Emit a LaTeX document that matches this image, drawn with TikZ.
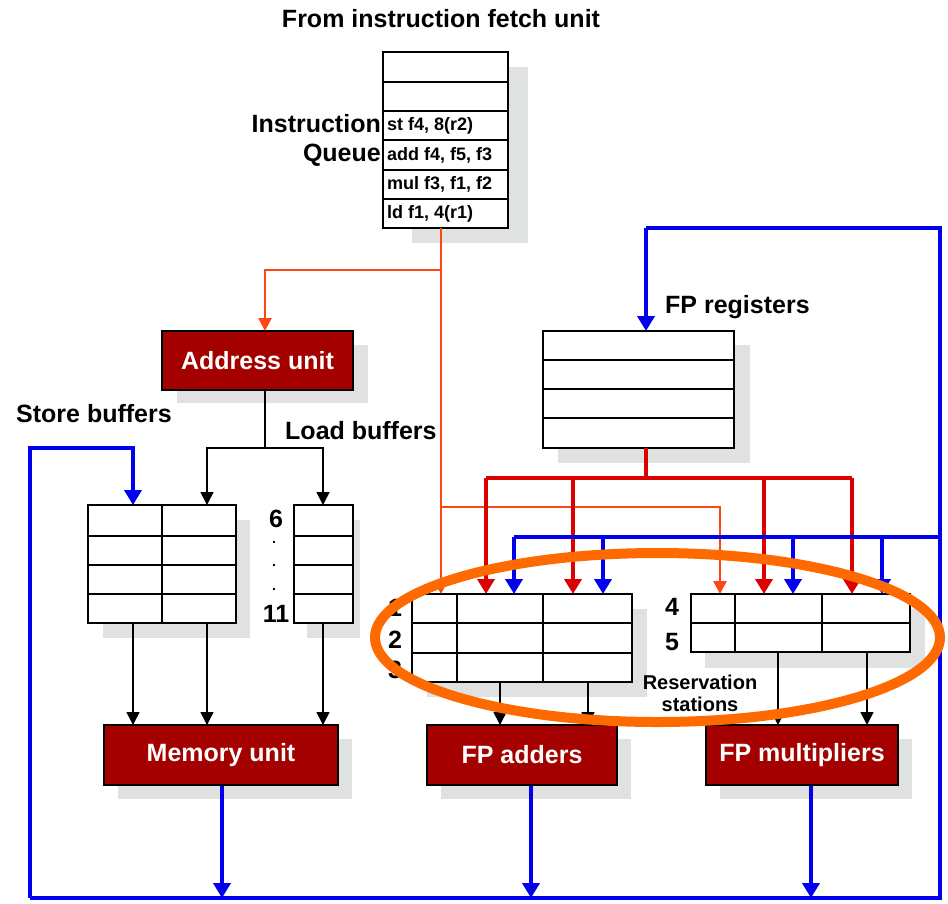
\documentclass[tikz,border=0pt]{standalone}
\usepackage{fontspec}
\setmainfont{Liberation Sans}
\usetikzlibrary{arrows.meta,calc}
\definecolor{unitred}{HTML}{A50000}
\definecolor{busred}{HTML}{DD0000}
\definecolor{ored}{HTML}{FF4512}
\definecolor{bblue}{HTML}{0000EE}
\definecolor{ring}{HTML}{FF6A00}
\definecolor{shade}{HTML}{E0E2E2}
\begin{document}
\begin{tikzpicture}[x=1pt,y=-1pt,line join=miter,
  lbl/.style={font=\bfseries\fontsize{25}{25}\selectfont, inner sep=0},
  dotlbl/.style={font=\bfseries\fontsize{14}{14}\selectfont, inner sep=0},
  small/.style={font=\bfseries\fontsize{18}{18}\selectfont, inner sep=0},
  rslbl/.style={font=\bfseries\fontsize{20}{22}\selectfont, inner sep=0, align=center},
  unit/.style={draw=black, line width=1.2pt, fill=unitred, text=white, font=\bfseries\fontsize{25}{25}\selectfont, inner sep=0, minimum height=60},
  tbl/.style={draw=black, line width=1.5pt, fill=white, inner sep=0},
  cell/.style={black, line width=1.5pt},
  shadowbox/.style={fill=shade, draw=none},
  bbus/.style={bblue, line width=4pt},
  rbus/.style={busred, line width=4.5pt},
  obus/.style={ored, line width=2.5pt},
  kline/.style={black, line width=1.5pt},
  tipbig/.style={-{Triangle[length=15pt,width=17pt]}},
  tipmid/.style={-{Triangle[length=13pt,width=13pt]}},
  tipk/.style={-{Triangle[length=13pt,width=13pt]}}
]
\useasboundingbox (0,0) rectangle (948,903);
\fill[white] (0,0) rectangle (948,903);

% ---------- shadows ----------
\fill[shadowbox] (412,67) rectangle (528,243);
\fill[shadowbox] (177,345) rectangle (368,403);
\fill[shadowbox] (558,345) rectangle (750,463);
\fill[shadowbox] (103,520) rectangle (250,638);
\fill[shadowbox] (307,520) rectangle (360,638);
\fill[shadowbox] (427,609) rectangle (647,697);
\fill[shadowbox] (705,609) rectangle (925,668);
\fill[shadowbox] (118,739) rectangle (352,799);
\fill[shadowbox] (441,739) rectangle (631,799);
\fill[shadowbox] (720,739) rectangle (912,799);

% ---------- instruction queue ----------
\node[lbl] (title) at (441,19) {From instruction fetch unit};
\node[tbl, minimum width=125, minimum height=176] (iq) at (445.5,140) {};
\foreach \y in {82,111,140,170,199} \draw[cell] (383,\y) -- (508,\y);
\node[lbl, anchor=east] (iql1) at (381,124) {Instruction};
\node[lbl, anchor=east] (iql2) at (381,155) {Queue};
\node[small, anchor=west] (i1) at (387,125.5) {st f4, 8(r2)};
\node[small, anchor=west] (i2) at (387,155) {add f4, f5, f3};
\node[small, anchor=west] (i3) at (387,184.5) {mul f3, f1, f2};
\node[small, anchor=west] (i4) at (387,213.5) {ld f1, 4(r1)};

% ---------- address unit ----------
\node[unit, minimum width=191, minimum height=59] (au) at (257.5,360.5) {Address unit};

% ---------- store / load buffers ----------
\node[lbl, anchor=west] (sbl) at (16,414) {Store buffers};
\node[lbl, anchor=west] (lbl) at (285,431) {Load buffers};
\node[tbl, minimum width=148, minimum height=118] (sb) at (162,564) {};
\foreach \y in {536,565,594} \draw[cell] (88,\y) -- (236,\y);
\draw[cell] (162,505) -- (162,623);
\node[tbl, minimum width=59, minimum height=118] (lb) at (323.5,564) {};
\foreach \y in {536,565,594} \draw[cell] (294,\y) -- (353,\y);
\node[lbl] (n6) at (276,519) {6};
\node[dotlbl] (d1) at (274,542) {.};
\node[dotlbl] (d2) at (274,565) {.};
\node[dotlbl] (d3) at (274,589) {.};
\node[lbl] (n11) at (276,614) {11};

% ---------- FP registers ----------
\node[lbl, anchor=west] (fprl) at (665,307) {FP registers};
\node[tbl, minimum width=191, minimum height=117] (fpr) at (638.5,389.5) {};
\foreach \y in {360,389,418} \draw[cell] (543,\y) -- (734,\y);

% ---------- reservation stations ----------
\node[tbl, minimum width=220, minimum height=88] (rs1) at (522,638) {};
\foreach \y in {623,653} \draw[cell] (412,\y) -- (632,\y);
\draw[cell] (457,594) -- (457,682);
\draw[cell] (543,594) -- (543,682);
\node[lbl] (r1) at (395,608) {1};
\node[lbl] (r2) at (395,640) {2};
\node[lbl] (r3) at (395,670) {3};

\node[tbl, minimum width=219, minimum height=58] (rs4) at (800.5,623) {};
\draw[cell] (691,623) -- (910,623);
\draw[cell] (735,594) -- (735,652);
\draw[cell] (822,594) -- (822,652);
\node[lbl] (r4) at (672,607) {4};
\node[lbl] (r5) at (672,642) {5};
\node[rslbl] (rsl) at (700,693) {Reservation\\stations};

% ---------- functional units ----------
\node[unit, minimum width=234] (mu) at (221,755) {Memory unit};
\node[unit, minimum width=190] (fa) at (522,755) {FP adders};
\node[unit, minimum width=192] (fm) at (802,755) {FP multipliers};

% ---------- coordinates ----------
\coordinate (iqout) at (441,228);
\coordinate (oj1) at (441,270);
\coordinate (oj2) at (441,507);
\coordinate (auin) at (265,331);
\coordinate (auout) at (265,390);
\coordinate (kj) at (265,448);
\coordinate (sbin1) at (133,505);
\coordinate (sbin2) at (207,505);
\coordinate (lbin) at (323,505);
\coordinate (rs1o) at (441,594);
\coordinate (rs4o) at (720,594);
\coordinate (fprout) at (646,448);
\coordinate (rj) at (646,478);
\coordinate (busBL) at (30,898);
\coordinate (busBR) at (940,898);
\coordinate (busTR) at (940,228);
\coordinate (busT) at (646,228);
\coordinate (fprin) at (646,331);
\coordinate (busM) at (940,537);
\coordinate (busS) at (30,448);

% ---------- orange (instruction issue) ----------
\draw[obus] (iqout) -- (oj2);
\draw[obus, tipmid] (oj2) -- (rs1o);
\draw[obus, tipmid] (oj1) -| (auin);
\draw[obus, tipmid] (oj2) -| (rs4o);

% ---------- black (address unit) ----------
\draw[kline] (auout) -- (kj);
\draw[kline, tipk] (kj) -| (sbin2);
\draw[kline, tipk] (kj) -| (lbin);

% ---------- red (FP registers) ----------
\draw[rbus] (fprout) -- (rj);
\draw[rbus] (486,478) -- (852,478);
\foreach \x in {486,573,764,852} \draw[rbus, tipbig] (\x,478) -- (\x,594);

% ---------- blue (common data bus) ----------
\draw[bbus] (busBL) -- (busBR) -- (busTR) -- (busT);
\draw[bbus, tipbig] (busT) -- (fprin);
\draw[bbus, tipbig] (busBL) -- (busS) -| (sbin1);
\draw[bbus] (busM) -- (514,537);
\foreach \x in {514,603,793,882} \draw[bbus, tipbig] (\x,537) -- (\x,594);
\draw[bbus, tipbig] (mu.south -| 222,0) -- (222,898);
\draw[bbus, tipbig] (fa.south -| 531,0) -- (531,898);
\draw[bbus, tipbig] (fm.south -| 811,0) -- (811,898);

% ---------- black (buffers/RS to units) ----------
\foreach \x in {133,207} \draw[kline, tipk] (\x,623) -- (\x,725);
\draw[kline, tipk] (lb.south -| 323,0) -- (323,725);
\foreach \x in {500,588} \draw[kline, tipk] (\x,682) -- (\x,725);
\foreach \x in {778,867} \draw[kline, tipk] (\x,652) -- (\x,725);

% ---------- highlight ring ----------
\draw[ring, line width=10pt] (657.5,637.5) ellipse [x radius=282.5, y radius=84.5];
\end{tikzpicture}
\end{document}
